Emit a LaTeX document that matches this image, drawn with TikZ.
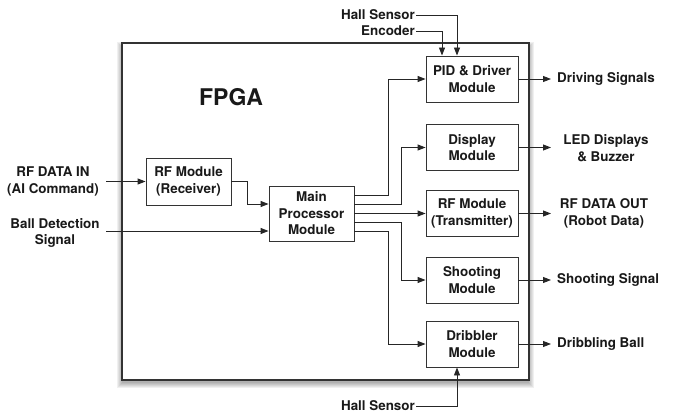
\documentclass[tikz,border=0pt]{standalone}
\usepackage{fontspec}
\setmainfont{TeX Gyre Heros}
\usetikzlibrary{arrows.meta}
\begin{document}
\begin{tikzpicture}[x=1pt,y=-1pt,
  every node/.style={font=\fontsize{13.4}{16.5}\selectfont\bfseries, text=black!90},
  module/.style={draw=black!80, line width=0.9pt, fill=white, align=center,
    minimum width=92pt, minimum height=46pt, inner sep=0pt},
  lbl/.style={align=center, inner sep=1pt},
  conn/.style={draw=black!85, line width=0.9pt},
  arr/.style={conn, -{Triangle[length=8pt,width=6pt]}},
  shadowlayer/.style={fill=black, opacity=0.06, draw=none}]
\useasboundingbox (0,0) rectangle (676,414);
% soft shadow of the FPGA box
\foreach \i in {1,...,6} {
  \fill[shadowlayer] (122-6+\i,43-2+\i) rectangle (529+6-\i,380+9-\i);
}
% FPGA box
\node[draw=black!80, line width=1.2pt, fill=white, minimum width=407pt, minimum height=337pt] (fpga) at (325.5,211.5) {};
\node[font=\fontsize{23}{26}\selectfont\bfseries] (fpgalbl) at (231,97) {FPGA};
% modules
\node[module] (pid) at (472,79) {PID \& Driver\\Module};
\node[module] (disp) at (472,147.5) {Display\\Module};
\node[module] (rft) at (472,213.5) {RF Module\\(Transmitter)};
\node[module] (shoot) at (472,280) {Shooting\\Module};
\node[module] (drib) at (472,344) {Dribbler\\Module};
\node[module, minimum width=85pt, minimum height=47pt] (rfr) at (188.5,181.5) {RF Module\\(Receiver)};
\node[module, minimum width=85pt, minimum height=55pt] (main) at (311.5,213.5) {Main\\Processor\\Module};
% left labels
\node[lbl] (in1) at (53,181.5) {RF DATA IN\\(AI Command)};
\node[lbl] (ball) at (55,233) {Ball Detection\\Signal};
\coordinate (in1s) at (106,181.5);
\coordinate (balls) at (106,231);
% right labels
\node[lbl, anchor=west] (o1) at (556,79) {Driving Signals};
\node[lbl] (o2) at (606,148) {LED Displays\\\& Buzzer};
\node[lbl] (o3) at (604,213.5) {RF DATA OUT\\(Robot Data)};
\node[lbl, anchor=west] (o4) at (556,280) {Shooting Signal};
\node[lbl, anchor=west] (o5) at (556,344) {Dribbling Ball};
\coordinate (e1) at (551,79);
\coordinate (e2) at (551,147.5);
\coordinate (e3) at (551,213.5);
\coordinate (e4) at (551,280);
\coordinate (e5) at (551,344);
% top/bottom labels
\node[lbl, anchor=east] (hs1) at (416,15) {Hall Sensor};
\node[lbl, anchor=east] (enc) at (416,31) {Encoder};
\node[lbl, anchor=east] (hs2) at (416,406) {Hall Sensor};
% connectors
\draw[arr] (in1s) -- (rfr.west |- in1s);
\draw[arr] (rfr.east) -- (247,181.5) |- (main.west |- 0,204);
\draw[arr] (balls) -- (main.west |- balls);
\draw[arr] (main.east |- 0,195) -- (388,195) |- (pid.west);
\draw[arr] (main.east |- 0,204) -- (401,204) |- (disp.west);
\draw[arr] (main.east) -- (rft.west);
\draw[arr] (main.east |- 0,222) -- (401,222) |- (shoot.west);
\draw[arr] (main.east |- 0,231) -- (388,231) |- (drib.west);
\draw[arr] (pid.east) -- (e1);
\draw[arr] (disp.east) -- (e2);
\draw[arr] (rft.east) -- (e3);
\draw[arr] (shoot.east) -- (e4);
\draw[arr] (drib.east) -- (e5);
\draw[arr] (hs1.east) -| ([xshift=-15pt]pid.north);
\draw[arr] (enc.east) -| ([xshift=-30pt]pid.north);
\draw[arr] (hs2.east) -| ([xshift=-15pt]drib.south);
\end{tikzpicture}
\end{document}
